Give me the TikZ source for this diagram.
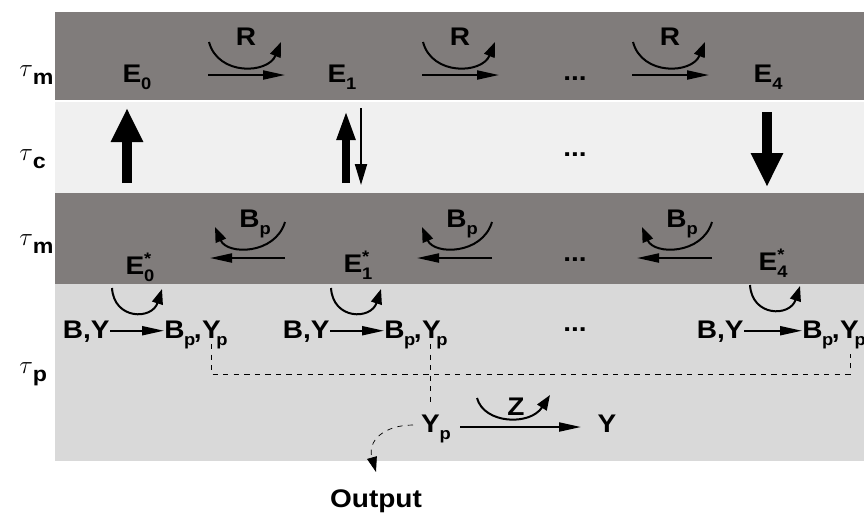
\documentclass[tikz,border=0pt]{standalone}
\usepackage{fontspec}
\setmainfont{Liberation Sans}[FakeStretch=1.1]
\usetikzlibrary{arrows.meta}
\definecolor{banddark}{RGB}{128,124,123}
\definecolor{bandlight}{RGB}{240,240,240}
\definecolor{bandlow}{RGB}{217,217,217}
\newcommand{\subtx}[1]{\raisebox{-4pt}{\fontsize{9.5}{10}\selectfont #1}}
\newcommand{\starsub}[1]{\raisebox{-4pt}{\fontsize{9.5}{10}\selectfont\shortstack[l]{*\\#1}}}
\newcommand{\tlabel}[1]{{\fontsize{15}{16}\selectfont$\tau$}\raisebox{-5pt}{\fontsize{12}{13}\selectfont #1}}
\newcommand{\bpyp}{B\kern-0.3pt\subtx{p}\kern-0.8pt,\kern0.2pt Y\kern-2.4pt\subtx{p}}

\tikzset{
  txt/.style={font=\fontsize{14.5}{17}\selectfont\bfseries, inner sep=0pt, anchor=base},
  flow/.style={line width=0.04cm, -{Triangle[length=0.44cm,width=0.18cm]}},
  turn/.style={line width=0.04cm, -{Triangle[length=0.3cm,width=0.22cm]}},
  bigarrow/.style={line width=0.2cm, -{Triangle[length=0.68cm,width=0.6cm]}},
}

\begin{document}
\begin{tikzpicture}[x=0.02cm,y=-0.02cm]
    \useasboundingbox (0,0) rectangle (864,512);
    % the four time-scale bands
    \fill[banddark] (55,12) rectangle (864,100);
    \fill[bandlight] (55,102) rectangle (864,193);
    \fill[banddark] (55,193) rectangle (864,284);
    \fill[bandlow] (55,284) rectangle (864,461);

    % time scales
    \node[txt, anchor=base west] (tm1) at (19,76) {\tlabel{m}};
    \node[txt, anchor=base west] (tc) at (19,160) {\tlabel{c}};
    \node[txt, anchor=base west] (tm2) at (19,245) {\tlabel{m}};
    \node[txt, anchor=base west] (tp) at (19,373) {\tlabel{p}};

    % top row
    \node[txt] (E0) at (137,82) {E\subtx{0}};
    \node[txt] (E1) at (342,82) {E\subtx{1}};
    \node[txt] (E4) at (768,82) {E\subtx{4}};
    \node[txt] (dotsA) at (575,80) {...};
    \foreach \c/\i in {246/1, 460/2, 670/3} {
        \coordinate (ra\i) at (\c-38,75);
        \coordinate (rb\i) at (\c+39,75);
        \draw[flow] (ra\i) -- (rb\i);
        \coordinate (rc\i) at (\c-37,42);
        \coordinate (rd\i) at (\c+35,42);
        \draw[turn] (rc\i) .. controls (\c-28,76) and (\c+22,74) .. (rd\i);
        \node[txt] (R\i) at (\c,45) {R};
    }

    % middle row
    \coordinate (ua) at (127,183);
    \coordinate (ub) at (127,108);
    \draw[bigarrow] (ua) -- (ub);
    \coordinate (va) at (346,183);
    \coordinate (vb) at (346,110);
    \draw[line width=0.16cm, -{Triangle[length=0.6cm,width=0.34cm]}] (va) -- (vb);
    \coordinate (wa) at (361,108);
    \coordinate (wb) at (361,185);
    \draw[line width=0.04cm, -{Triangle[length=0.42cm,width=0.24cm]}] (wa) -- (wb);
    \coordinate (xa) at (767,112);
    \coordinate (xb) at (767,187);
    \draw[bigarrow] (xa) -- (xb);
    \node[txt] (dotsB) at (575,156) {...};

    % second row
    \node[txt] (Es0) at (140,274) {E\starsub{0}};
    \node[txt] (Es1) at (358,272) {E\starsub{1}};
    \node[txt] (Es4) at (773,270) {E\starsub{4}};
    \node[txt] (dotsC) at (575,261) {...};
    \foreach \c/\i in {247/1, 454/2, 674/3} {
        \coordinate (ba\i) at (\c+38,258);
        \coordinate (bb\i) at (\c-37,258);
        \draw[flow] (ba\i) -- (bb\i);
        \coordinate (bc\i) at (\c+38,222);
        \coordinate (bd\i) at (\c-32,227);
        \draw[turn] (bc\i) .. controls (\c+28,255) and (\c-20,255) .. (bd\i);
        \node[txt] (Bp\i) at (\c+8,227) {B\subtx{p}};
    }
    \foreach \x/\y/\i in {112/288/0, 331/288/1, 750/285/4} {
        \coordinate (la\i) at (\x,\y);
        \coordinate (lb\i) at (\x+50,\y+1);
        \draw[turn] (la\i) .. controls (\x+2,\y+32) and (\x+40,\y+32) .. (lb\i);
    }

    % lower row
    \foreach \a/\b/\i in {110/164/1, 330/384/2, 744/802/3} {
        \node[txt, anchor=base east] (BY\i) at (\a,338) {B,Y};
        \node[txt, anchor=base west] (BpYp\i) at (\b,338) {\bpyp};
        \draw[flow] ([yshift=1.5pt]BY\i.mid east) -- ([yshift=1.5pt]BpYp\i.mid west);
    }
    \node[txt] (dotsD) at (575,331) {...};
    \coordinate (d1) at (211,344);
    \coordinate (d2) at (430,344);
    \coordinate (d3) at (850,354);
    \coordinate (dj) at (430,374);
    \draw[dashed] (d1) |- (dj) -| (d3);
    \node[txt] (Yp) at (436,432) {Y\subtx{p}};
    \node[txt] (Y) at (607,432) {Y};
    \draw[dashed] (d2) -- (d2 |- 0,402);
    \coordinate (za) at (460,427);
    \coordinate (zb) at (581,427);
    \draw[flow] (za) -- (zb);
    \coordinate (zc) at (477,398);
    \coordinate (zd) at (550,395);
    \draw[turn] (zc) .. controls (484,424) and (530,426) .. (zd);
    \node[txt] (Z) at (516,415) {Z};
    \node[txt] (Out) at (376,507) {Output};
    \coordinate (oa) at (413,425);
    \draw[dashed, -{Triangle[length=0.3cm,width=0.2cm]}] (oa) .. controls (385,425) and (367,440) .. (Out.north |- 0,472);
\end{tikzpicture}
\end{document}
